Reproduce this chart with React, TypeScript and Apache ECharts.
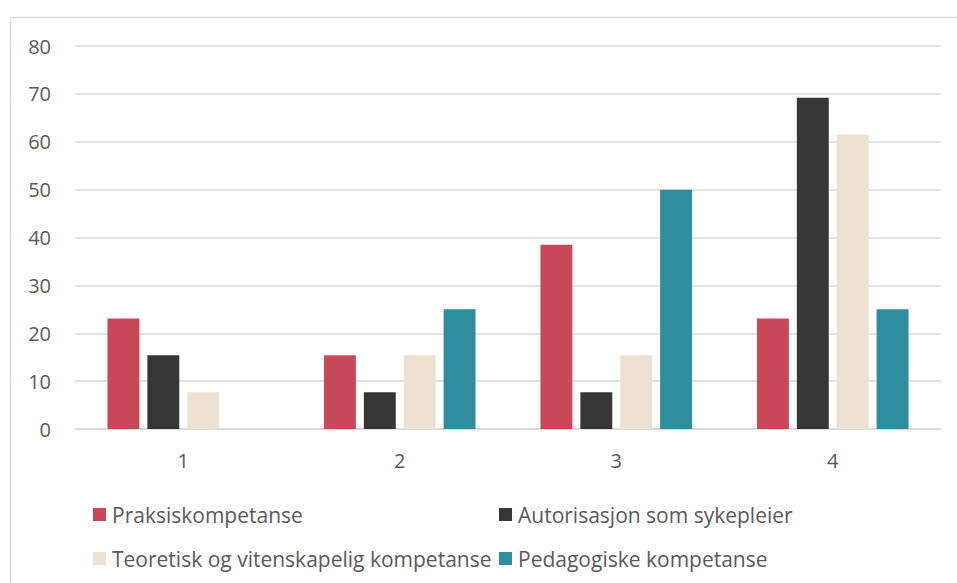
import React, { useEffect, useRef } from "react";
import * as echarts from "echarts";

const categories = ["1", "2", "3", "4"];
const seriesNames = [
  "Praksiskompetanse",
  "Autorisasjon som sykepleier",
  "Teoretisk og vitenskapelig kompetanse",
  "Pedagogiske kompetanse",
];
const praksis = [23.1, 15.4, 38.5, 23.1];
const autorisasjon = [15.4, 7.7, 7.7, 69.2];
const teoretisk = [7.7, 15.4, 15.4, 61.5];
const pedagogiske = [0, 25, 50, 25];
const colors = ["#C8485A", "#363636", "#EDE1D1", "#2E8E9F"];
const yTicks = { min: 0, max: 80, interval: 10 };

const FONT = "Open Sans";
const TEXT = "#595959";

export default function App() {
  const ref = useRef<HTMLDivElement>(null);
  useEffect(() => {
    if (!ref.current) return;
    const chart = echarts.init(ref.current, null, { renderer: "svg" });
    const values = [praksis, autorisasjon, teoretisk, pedagogiske];
    const legendPos = [
      { left: 93, top: 504 },
      { left: 499, top: 504 },
      { left: 93, top: 548 },
      { left: 499, top: 548 },
    ];
    chart.setOption({
      animation: false,
      backgroundColor: "#fff",
      textStyle: { fontFamily: FONT },
      graphic: [
        {
          type: "rect",
          shape: { x: 10.5, y: 17.5, width: 1000, height: 1000 },
          style: { fill: "none", stroke: "#D9D9D9", lineWidth: 1.5 },
          silent: true,
        },
      ],
      grid: { left: 75, right: 16, top: 46, bottom: 154 },
      legend: seriesNames.map((n, i) => ({
        data: [n],
        left: legendPos[i].left,
        top: legendPos[i].top,
        itemWidth: 13,
        itemHeight: 13,
        itemGap: 0,
        padding: 0,
        icon: "rect",
        selectedMode: false,
        textStyle: {
          color: TEXT,
          fontSize: 21,
          lineHeight: 20,
          fontFamily: FONT,
          padding: [0, 0, 0, 1],
        },
      })),
      xAxis: {
        type: "category",
        data: categories,
        axisLine: { show: true, lineStyle: { color: "#D9D9D9", width: 1.5 } },
        axisTick: { show: false },
        axisLabel: { color: TEXT, fontSize: 20, margin: 21, fontFamily: FONT },
      },
      yAxis: {
        type: "value",
        min: yTicks.min,
        max: yTicks.max,
        interval: yTicks.interval,
        axisLine: { show: false },
        axisTick: { show: false },
        axisLabel: { color: TEXT, fontSize: 20, margin: 24, fontFamily: FONT },
        splitLine: { lineStyle: { color: "#D9D9D9", width: 1.5 } },
      },
      series: seriesNames.map((n, i) => ({
        name: n,
        type: "bar",
        data: values[i],
        barGap: "25%",
        barCategoryGap: "30%",
        itemStyle: { color: colors[i] },
      })),
    });
    return () => chart.dispose();
  }, []);
  return (
    <div
      ref={ref}
      style={{ position: "fixed", left: 0, top: 0, width: 957, height: 583 }}
    />
  );
}
